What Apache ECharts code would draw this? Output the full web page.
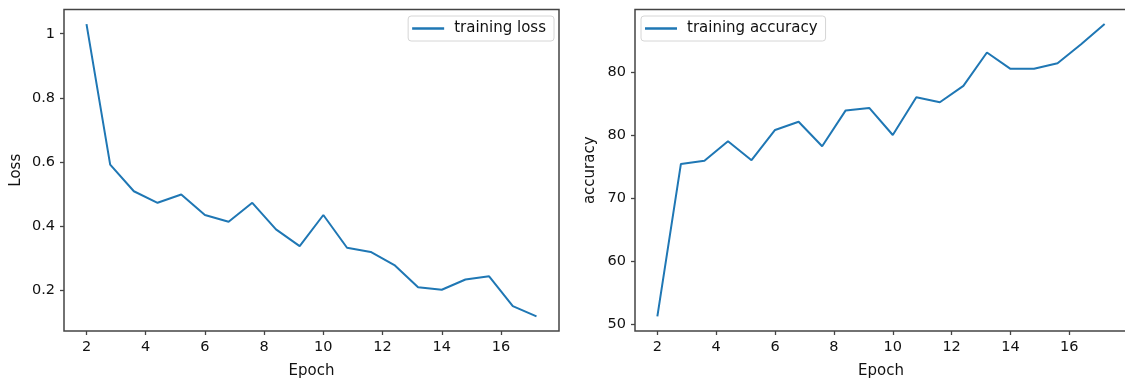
<!DOCTYPE html>
<html>
<head>
<meta charset="utf-8">
<script src="https://cdn.jsdelivr.net/npm/echarts@6/dist/echarts.min.js"></script>
<style>
  html, body { margin: 0; padding: 0; background: #fff; }
  #chart { width: 1125px; height: 379px; }
</style>
</head>
<body>
<div id="chart"></div>
<script>
// Training history: one record every 0.8 epochs
const epochs = [2, 2.8, 3.6, 4.4, 5.2, 6.0, 6.8, 7.6, 8.4, 9.2, 10, 10.8, 11.6, 12.4, 13.2, 14, 14.8, 15.6, 16.4, 17.2];
const trainingLoss = [1.030, 0.592, 0.509, 0.473, 0.499, 0.435, 0.414, 0.473, 0.390, 0.338, 0.435, 0.333, 0.320, 0.279, 0.210, 0.202, 0.234, 0.244, 0.151, 0.119];
const trainingAccuracy = [51.2, 75.4, 75.9, 79.0, 76.0, 80.8, 82.1, 78.2, 83.9, 84.3, 80.0, 86.0, 85.2, 87.8, 93.1, 90.5, 90.5, 91.4, 94.4, 97.6];

// Tick positions and their printed labels
const epochTicks = [2, 4, 6, 8, 10, 12, 14, 16];
const lossTicks = [0.2, 0.4, 0.6, 0.8, 1];
const accuracyTicks = [50, 60, 70, 80, 90];
const accuracyTickLabels = ['50', '60', '70', '80', '80'];

const FONT = 'DejaVu Sans';
const TEXT = '#111';
const FRAME = '#444';
const BLUE = '#1f77b4';

const pairs = (xs, ys) => xs.map((x, i) => [x, ys[i]]);

// matplotlib-style 5% padding around the data range
function padded(values) {
  const lo = Math.min(...values), hi = Math.max(...values);
  const m = (hi - lo) * 0.05;
  return [lo - m, hi + m];
}
const [xMin, xMax] = padded(epochs);
const [lossMin, lossMax] = padded(trainingLoss);
const [accMin, accMax] = padded(trainingAccuracy);

function xAxis(gridIndex) {
  return {
    type: 'value', gridIndex, min: xMin, max: xMax,
    name: 'Epoch', nameLocation: 'middle', nameGap: 33,
    nameTextStyle: { fontFamily: FONT, fontSize: 15, color: TEXT },
    axisLine: { show: false },
    axisTick: { show: true, length: 4, lineStyle: { color: FRAME, width: 1.3 }, customValues: epochTicks },
    axisLabel: { fontFamily: FONT, fontSize: 14.5, color: TEXT, margin: 9, customValues: epochTicks, formatter: v => String(v) },
    splitLine: { show: false }
  };
}

function yAxis(gridIndex, name, min, max, ticks, labelFn, nameGap) {
  return {
    type: 'value', gridIndex, min, max,
    name, nameLocation: 'middle', nameGap,
    nameTextStyle: { fontFamily: FONT, fontSize: 15, color: TEXT },
    axisLine: { show: false },
    axisTick: { show: true, length: 4, lineStyle: { color: FRAME, width: 1.3 }, customValues: ticks },
    axisLabel: { fontFamily: FONT, fontSize: 14.5, color: TEXT, margin: 9, customValues: ticks, formatter: labelFn },
    splitLine: { show: false }
  };
}

function legend(pos, name) {
  return Object.assign({
    top: 16, data: [name],
    icon: 'rect',
    backgroundColor: 'rgba(255,255,255,0.8)',
    borderColor: '#d6d6d6', borderWidth: 1, borderRadius: 3,
    padding: [5, 8, 5, 4], itemWidth: 32, itemHeight: 2.5,
    textStyle: { fontFamily: FONT, fontSize: 15, color: TEXT, padding: [0, 0, 0, 5] }
  }, pos);
}

const gridBase = { top: 9.5, height: 321.5, show: true, borderColor: FRAME, borderWidth: 1.5, backgroundColor: 'transparent', outerBoundsMode: 'none', containLabel: false };

const chart = echarts.init(document.getElementById('chart'), null, { renderer: 'canvas' });
chart.setOption({
  backgroundColor: '#fff',
  animation: false,
  grid: [
    Object.assign({ left: 64, width: 495 }, gridBase),
    Object.assign({ left: 635, width: 492 }, gridBase)
  ],
  xAxis: [xAxis(0), xAxis(1)],
  yAxis: [
    yAxis(0, 'Loss', lossMin, lossMax, lossTicks, v => String(v), 40),
    yAxis(1, 'accuracy', accMin, accMax, accuracyTicks, v => accuracyTickLabels[accuracyTicks.indexOf(Math.round(v))] ?? '', 37)
  ],
  legend: [legend({ right: 571 }, 'training loss'), legend({ left: 641 }, 'training accuracy')],
  series: [
    {
      name: 'training loss', type: 'line', xAxisIndex: 0, yAxisIndex: 0,
      data: pairs(epochs, trainingLoss), symbol: 'none', smooth: false,
      lineStyle: { color: BLUE, width: 2 }, itemStyle: { color: BLUE }
    },
    {
      name: 'training accuracy', type: 'line', xAxisIndex: 1, yAxisIndex: 1,
      data: pairs(epochs, trainingAccuracy), symbol: 'none', smooth: false,
      lineStyle: { color: BLUE, width: 2 }, itemStyle: { color: BLUE }
    }
  ]
});
</script>
</body>
</html>
